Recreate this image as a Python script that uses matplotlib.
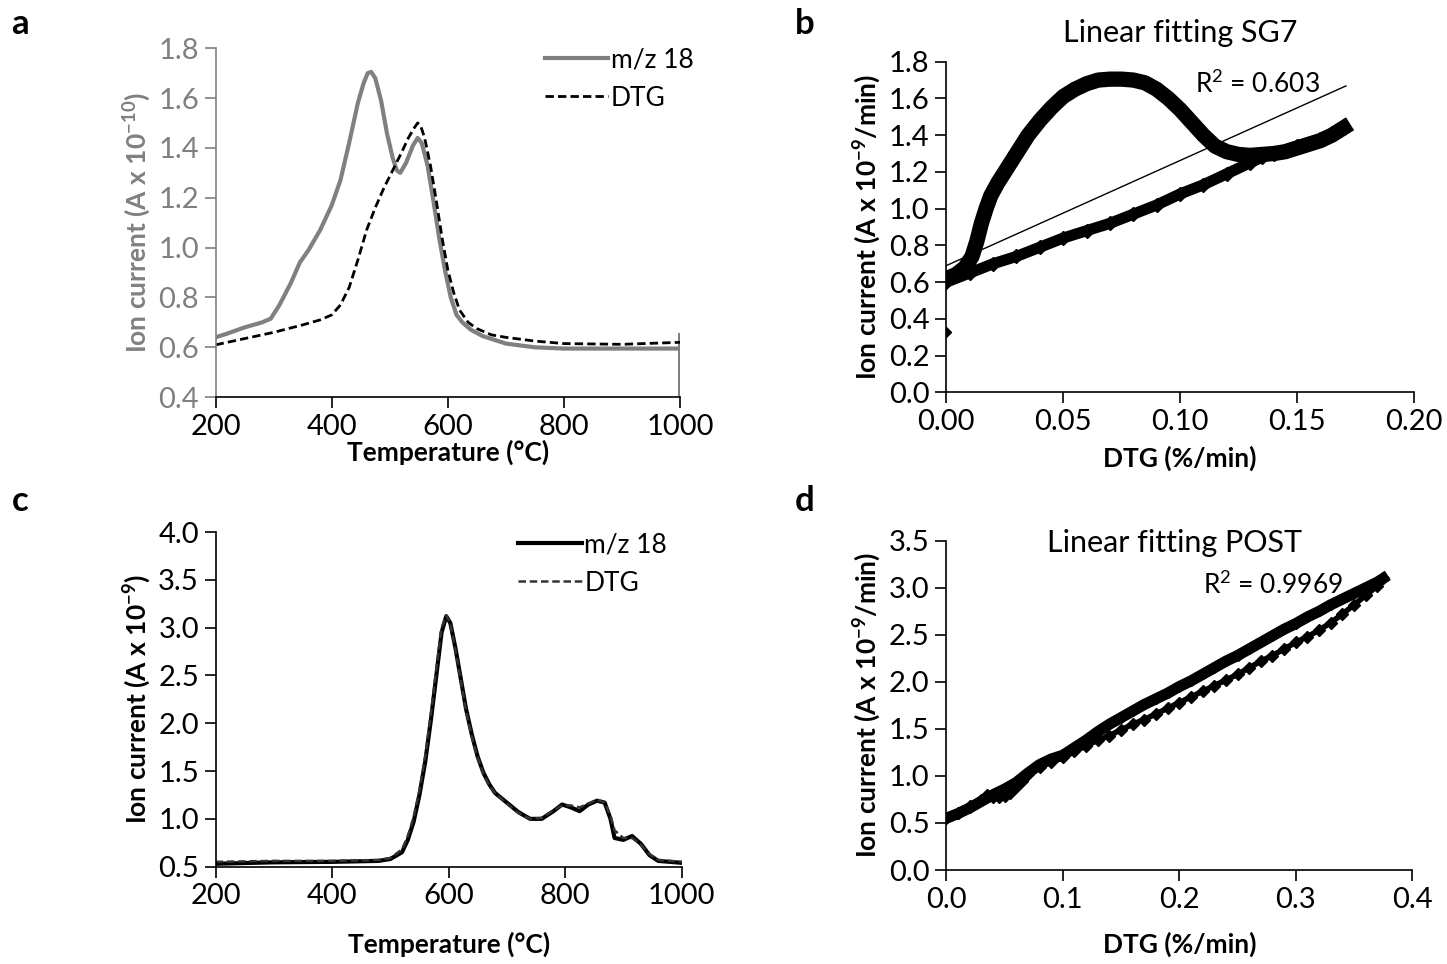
import matplotlib
matplotlib.use("Agg")
import matplotlib.pyplot as plt
import numpy as np

plt.rcParams['font.family'] = ['Lato', 'DejaVu Sans']
plt.rcParams['mathtext.default'] = 'regular'

# panel a: SG7 temperature profile
temp_a = [200, 220, 250, 280, 295, 310, 330, 345, 360, 380, 400, 415, 430, 445, 455, 462, 468, 475,
          485, 495, 505, 512, 518, 528, 540, 548, 555, 565, 575, 585, 595, 605, 615, 625, 640, 660,
          700, 750, 800, 1000, 1000, 1000]
mz_a = [0.64, 0.655, 0.68, 0.70, 0.715, 0.77, 0.86, 0.94, 0.99, 1.07, 1.17, 1.27, 1.42, 1.58, 1.66, 1.70, 1.705, 1.68,
        1.59, 1.46, 1.36, 1.31, 1.30, 1.34, 1.41, 1.44, 1.42, 1.33, 1.19, 1.04, 0.91, 0.80, 0.73, 0.70, 0.67, 0.645,
        0.615, 0.60, 0.595, 0.595, 0.65, 0.40]
temp_a_dtg = [200, 250, 300, 350, 380, 400, 415, 430, 445, 460, 475, 490, 505, 520, 532, 542, 548, 553,
              560, 570, 580, 590, 600, 610, 620, 635, 650, 675, 700, 750, 800, 900, 1000]
dtg_a = [0.61, 0.635, 0.66, 0.69, 0.71, 0.73, 0.77, 0.84, 0.95, 1.07, 1.16, 1.24, 1.31, 1.38, 1.44, 1.48, 1.50, 1.49,
         1.44, 1.33, 1.19, 1.04, 0.91, 0.82, 0.75, 0.70, 0.675, 0.65, 0.64, 0.625, 0.615, 0.612, 0.62]

# panel b: ion current vs DTG, SG7 (upper branch = heating up, lower = return)
dtg_b_up = [0.0, 0.004, 0.008, 0.011, 0.013, 0.015, 0.017, 0.019, 0.022, 0.026, 0.03, 0.035, 0.04, 0.045,
            0.05, 0.055, 0.06, 0.065, 0.07, 0.075, 0.08, 0.085, 0.09, 0.095, 0.10, 0.105, 0.11, 0.115,
            0.12, 0.125, 0.13, 0.135, 0.14, 0.145, 0.15, 0.155, 0.16, 0.165, 0.17]
ion_b_up = [0.62, 0.64, 0.68, 0.74, 0.82, 0.92, 1.00, 1.07, 1.14, 1.22, 1.30, 1.40, 1.48, 1.55,
            1.61, 1.65, 1.68, 1.70, 1.705, 1.705, 1.70, 1.685, 1.65, 1.60, 1.54, 1.47, 1.40, 1.34,
            1.31, 1.295, 1.29, 1.295, 1.30, 1.31, 1.33, 1.35, 1.37, 1.40, 1.44]
dtg_b_down = [0.17, 0.165, 0.16, 0.15, 0.14, 0.135, 0.13, 0.12, 0.11, 0.10, 0.09, 0.08, 0.07, 0.06,
              0.05, 0.04, 0.03, 0.02, 0.01, 0.0]
ion_b_down = [1.44, 1.41, 1.38, 1.34, 1.30, 1.28, 1.25, 1.19, 1.13, 1.08, 1.02, 0.97, 0.92, 0.88,
              0.84, 0.79, 0.74, 0.70, 0.65, 0.60]
outlier_b = (0.0, 0.33)
fit_b = (5.72, 0.69)
r2_b = "R$^2$ = 0.603"

# panel c: POST temperature profile
temp_c = [200, 300, 400, 480, 500, 520, 530, 540, 550, 560, 570, 580, 588, 596, 603, 612, 620, 630,
          640, 650, 660, 670, 680, 700, 720, 740, 760, 780, 795, 810, 825, 840, 855, 868, 878, 885,
          900, 915, 930, 945, 960, 1000]
mz_c = [0.53, 0.545, 0.55, 0.56, 0.58, 0.65, 0.78, 0.97, 1.25, 1.60, 2.05, 2.55, 2.95, 3.12, 3.05, 2.78, 2.50, 2.15,
        1.88, 1.65, 1.48, 1.36, 1.27, 1.17, 1.07, 1.00, 1.00, 1.08, 1.15, 1.12, 1.08, 1.15, 1.19, 1.17, 1.00, 0.80,
        0.78, 0.82, 0.74, 0.62, 0.56, 0.54]
dtg_c = [0.55, 0.56, 0.56, 0.57, 0.59, 0.68, 0.82, 1.02, 1.30, 1.66, 2.12, 2.62, 3.00, 3.13, 3.04, 2.76, 2.48, 2.13,
         1.86, 1.64, 1.47, 1.35, 1.27, 1.16, 1.06, 1.00, 1.01, 1.09, 1.14, 1.14, 1.12, 1.16, 1.20, 1.17, 1.03, 0.88,
         0.80, 0.80, 0.73, 0.63, 0.57, 0.55]

# panel d: ion current vs DTG, POST
dtg_d_up = [0.0, 0.01, 0.02, 0.03, 0.04, 0.05, 0.06, 0.07, 0.08, 0.09, 0.10, 0.11, 0.12, 0.13, 0.14,
            0.15, 0.16, 0.17, 0.18, 0.19, 0.20, 0.21, 0.22, 0.23, 0.24, 0.25, 0.26, 0.27, 0.28, 0.29,
            0.30, 0.31, 0.32, 0.33, 0.34, 0.35, 0.36, 0.37, 0.375]
ion_d_up = [0.55, 0.60, 0.66, 0.73, 0.80, 0.86, 0.93, 1.03, 1.12, 1.18, 1.22, 1.30, 1.38, 1.47, 1.55,
            1.62, 1.69, 1.76, 1.82, 1.88, 1.95, 2.01, 2.08, 2.15, 2.22, 2.28, 2.35, 2.42, 2.49, 2.56,
            2.62, 2.69, 2.75, 2.82, 2.88, 2.94, 3.00, 3.06, 3.10]
dtg_d_down = [0.375, 0.37, 0.36, 0.35, 0.34, 0.33, 0.32, 0.31, 0.30, 0.29, 0.28, 0.27, 0.26, 0.25,
              0.24, 0.23, 0.22, 0.21, 0.20, 0.19, 0.18, 0.17, 0.16, 0.15, 0.14, 0.13, 0.12, 0.11,
              0.10, 0.09, 0.08, 0.07, 0.065, 0.06, 0.055, 0.05, 0.045, 0.04, 0.035, 0.03, 0.02, 0.01, 0.0]
ion_d_down = [3.10, 3.02, 2.92, 2.82, 2.72, 2.63, 2.55, 2.48, 2.42, 2.35, 2.28, 2.22, 2.15, 2.08,
              2.02, 1.96, 1.90, 1.84, 1.78, 1.72, 1.66, 1.60, 1.55, 1.49, 1.43, 1.38, 1.32, 1.26,
              1.20, 1.15, 1.10, 1.02, 0.95, 0.88, 0.82, 0.79, 0.78, 0.78, 0.80, 0.74, 0.68, 0.61, 0.55]
r2_d = "R$^2$ = 0.9969"

gray = '#808080'
tick_fs = 21
lab_fs = 19

fig = plt.figure(figsize=(14.47, 9.64), dpi=100)
ax_a = fig.add_axes([0.149, 0.588, 0.321, 0.362])
ax_b = fig.add_axes([0.654, 0.593, 0.323, 0.343])
ax_c = fig.add_axes([0.149, 0.101, 0.322, 0.347])
ax_d = fig.add_axes([0.654, 0.0975, 0.322, 0.3415])


def style(ax):
    for s in ['top', 'right']:
        ax.spines[s].set_visible(False)
    ax.spines['left'].set_linewidth(1.2)
    ax.spines['bottom'].set_linewidth(1.2)
    ax.tick_params(direction='out', length=8, width=1.2, labelsize=tick_fs, pad=4)


# a
ax_a.plot(temp_a, mz_a, color=gray, lw=3, label='m/z 18')
ax_a.plot(temp_a_dtg, dtg_a, color='black', lw=2, ls=(0, (3, 1.5)), label='DTG')
ax_a.set_xlim(200, 1000)
ax_a.set_ylim(0.4, 1.8)
ax_a.set_xticks([200, 400, 600, 800, 1000])
ax_a.set_yticks(np.arange(0.4, 1.81, 0.2))
ax_a.yaxis.set_major_formatter(matplotlib.ticker.FormatStrFormatter('%.1f'))
style(ax_a)
ax_a.tick_params(axis='y', labelcolor=gray, color=gray)
ax_a.spines['left'].set_color(gray)
ax_a.set_xlabel('Temperature (°C)', fontsize=lab_fs, fontweight='bold', labelpad=0)
ax_a.set_ylabel('Ion current (A x 10$^{-10}$)', fontsize=lab_fs, fontweight='bold', color=gray, labelpad=4)
ax_a.legend(loc='upper right', bbox_to_anchor=(1.08, 1.07), frameon=False, fontsize=19,
            handlelength=2.4, handletextpad=0.1, labelspacing=0.5)

# b
ax_b.plot(dtg_b_up, ion_b_up, color='black', lw=11, marker='D', ms=6)
ax_b.plot(dtg_b_down, ion_b_down, color='black', lw=8, marker='D', ms=7)
ax_b.plot([outlier_b[0]], [outlier_b[1]], 'D', color='black', ms=5)
xf = np.array([0.0, 0.171])
ax_b.plot(xf, fit_b[0] * xf + fit_b[1], color='black', lw=1)
ax_b.set_xlim(0, 0.2)
ax_b.set_ylim(0, 1.8)
ax_b.set_xticks([0.0, 0.05, 0.10, 0.15, 0.20])
ax_b.set_yticks(np.arange(0, 1.81, 0.2))
ax_b.xaxis.set_major_formatter(matplotlib.ticker.FormatStrFormatter('%.2f'))
ax_b.yaxis.set_major_formatter(matplotlib.ticker.FormatStrFormatter('%.1f'))
style(ax_b)
ax_b.set_xlabel('DTG (%/min)', fontsize=lab_fs, fontweight='bold', labelpad=8)
ax_b.set_ylabel('Ion current (A x 10$^{-9}$/min)', fontsize=lab_fs, fontweight='bold', labelpad=4)
ax_b.set_title('Linear fitting SG7', fontsize=22, pad=14)
ax_b.text(0.1066, 1.68, r2_b, fontsize=19, va='center')

# c
ax_c.plot(temp_c, mz_c, color='black', lw=3, label='m/z 18')
ax_c.plot(temp_c, dtg_c, color='#333333', lw=1.8, ls=(0, (3, 1.5)), label='DTG')
ax_c.set_xlim(200, 1000)
ax_c.set_ylim(0.5, 4.0)
ax_c.set_xticks([200, 400, 600, 800, 1000])
ax_c.set_yticks(np.arange(0.5, 4.01, 0.5))
ax_c.yaxis.set_major_formatter(matplotlib.ticker.FormatStrFormatter('%.1f'))
style(ax_c)
ax_c.set_xlabel('Temperature (°C)', fontsize=lab_fs, fontweight='bold', labelpad=16)
ax_c.set_ylabel('Ion current (A x 10$^{-9}$)', fontsize=lab_fs, fontweight='bold', labelpad=4)
ax_c.legend(loc='upper right', bbox_to_anchor=(1.02, 1.07), frameon=False, fontsize=19,
            handlelength=2.4, handletextpad=0.1, labelspacing=0.5)

# d
ax_d.plot(dtg_d_up, ion_d_up, color='black', lw=8, marker='D', ms=5)
ax_d.plot(dtg_d_down, ion_d_down, color='black', lw=4, marker='D', ms=6)
ax_d.set_xlim(0, 0.4)
ax_d.set_ylim(0, 3.5)
ax_d.set_xticks([0.0, 0.1, 0.2, 0.3, 0.4])
ax_d.set_yticks(np.arange(0, 3.51, 0.5))
ax_d.xaxis.set_major_formatter(matplotlib.ticker.FormatStrFormatter('%.1f'))
ax_d.yaxis.set_major_formatter(matplotlib.ticker.FormatStrFormatter('%.1f'))
style(ax_d)
ax_d.set_xlabel('DTG (%/min)', fontsize=lab_fs, fontweight='bold', labelpad=14)
ax_d.set_ylabel('Ion current (A x 10$^{-9}$/min)', fontsize=lab_fs, fontweight='bold', labelpad=4)
ax_d.text(0.196, 3.48, 'Linear fitting POST', ha='center', va='center', fontsize=22)
ax_d.text(0.2206, 3.03, r2_d, fontsize=19, va='center')

# panel letters
for lab, (x, y) in zip('abcd', [(0.008, 0.965), (0.549, 0.965), (0.008, 0.47), (0.549, 0.47)]):
    fig.text(x, y, lab, fontsize=25, fontweight='bold')

fig.savefig('out.png', dpi=100)
